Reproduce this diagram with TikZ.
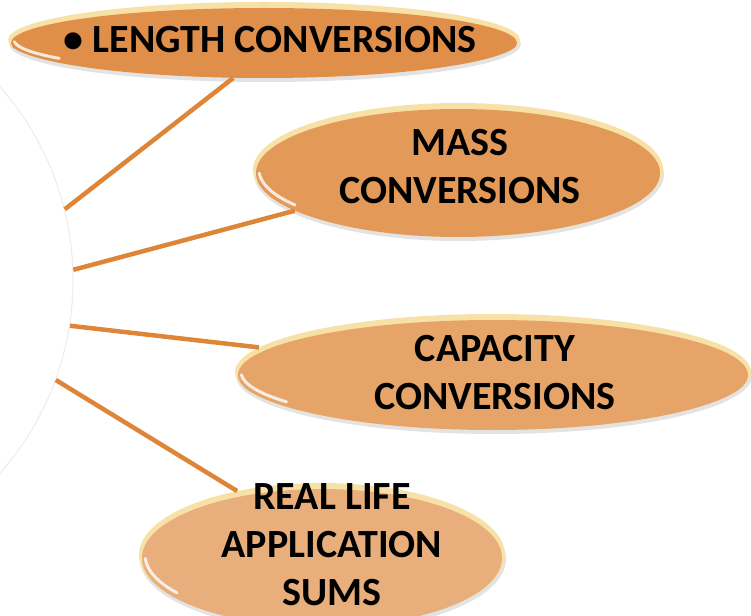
\documentclass[tikz,border=0pt]{standalone}
\usepackage{fontspec}
\setmainfont{Carlito}
\usetikzlibrary{positioning,shapes.geometric,shadows,calc}

\definecolor{rim}{HTML}{F8E1A6}
\definecolor{linkc}{HTML}{DE8538}
\definecolor{bodyA}{HTML}{DF8F4A}
\definecolor{bodyB}{HTML}{E39A59}
\definecolor{bodyC}{HTML}{E6A469}
\definecolor{bodyD}{HTML}{E8AE7C}

\tikzset{
  bubble/.style={ellipse, inner sep=0pt, fill=rim,
    drop shadow={shadow xshift=1pt, shadow yshift=-4pt, opacity=.22},
    path picture={
      \fill[#1] let \p1=(path picture bounding box.north east),
                    \p2=(path picture bounding box.center) in
        ($(\p2)+(0pt,-3pt)$) ellipse [x radius={\x1-\x2-3pt}, y radius={\y1-\y2-3pt}];
      \draw[white, opacity=.8, line width=3pt, line cap=round]
            let \p1=(path picture bounding box.north east),
                \p2=(path picture bounding box.center) in
        ($(\p2)+({(\x1-\x2-6pt)*cos(183)},{(\y1-\y2-6pt)*sin(183)})$)
          arc [start angle=183, end angle=215, x radius={\x1-\x2-6pt}, y radius={\y1-\y2-6pt}];
    }},
  bubbletext/.style={font=\bfseries\fontsize{40}{48}\selectfont, align=center, text=black},
  link/.style={draw=linkc, line width=4.5pt}
}

\begin{document}
\begin{tikzpicture}[x=1pt, y=-1pt]
        \useasboundingbox (0,0) rectangle (751,615);
        \clip (0,0) rectangle (751,615);
        % Centre circle
        \node (hub) at (-219,280) [circle, fill=white, draw=gray!15, line width=1pt, minimum size=584pt,
            circular drop shadow={shadow xshift=.5pt, shadow yshift=-.5pt, shadow scale=1.004, opacity=.08}] {};
        % Bubbles
        \node (len) at (264,40) [bubble=bodyA, minimum width=512pt, minimum height=76pt] {};
        \node (mass) at (458,170) [bubble=bodyB, minimum width=410pt, minimum height=134pt] {};
        \node (cap) at (493,372) [bubble=bodyC, minimum width=516pt, minimum height=116pt] {};
        \node (real) at (322,555) [bubble=bodyD, minimum width=366pt, minimum height=144pt] {};
        % Edges
        \foreach \a/\n/\b in {14/len/231, 2/mass/194, 351/cap/174, 340/real/143} {
            \draw[link] (hub.\a) -- (\n.\b);
        }
        % Texts
        \node (lentxt) at (270,40) [bubbletext] {\textbullet\ LENGTH CONVERSIONS};
        \node (masstxt) at (460,167) [bubbletext] {MASS\\CONVERSIONS};
        \node (captxt) at (495,373) [bubbletext] {CAPACITY\\CONVERSIONS};
        \node (realtxt) at (332,545) [bubbletext] {REAL LIFE\\APPLICATION\\SUMS};
    \end{tikzpicture}
\end{document}
